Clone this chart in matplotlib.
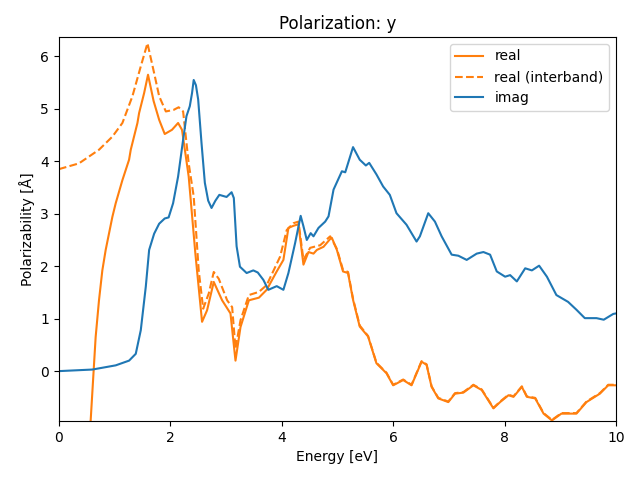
import matplotlib
matplotlib.use("Agg")
import matplotlib.pyplot as plt

# values
real_x = [0.0, 0.3, 0.4, 0.5, 0.57, 0.66, 0.72, 0.78, 0.84, 0.96, 1.02, 1.14, 1.26, 1.29, 1.41,
          1.44, 1.53, 1.60, 1.70, 1.80, 1.90, 2.03, 2.14, 2.21, 2.33, 2.45, 2.57, 2.66, 2.78,
          2.93, 3.08, 3.17, 3.26, 3.41, 3.59, 3.73, 3.91, 4.03, 4.12, 4.21, 4.30, 4.39, 4.48,
          4.57, 4.63, 4.75, 4.87, 4.90, 4.99, 5.10, 5.19, 5.28, 5.40, 5.55, 5.70, 5.88, 6.00,
          6.18, 6.33, 6.51, 6.60, 6.69, 6.81, 6.99, 7.11, 7.26, 7.44, 7.59, 7.80, 7.92, 8.07,
          8.16, 8.31, 8.40, 8.55, 8.70, 8.85, 9.02, 9.29, 9.47, 9.71, 9.86, 10.0]
real_y = [-8.0, -5.5, -4.5, -2.2, -0.95, 0.65, 1.35, 1.92, 2.31, 2.94, 3.2, 3.64, 4.03, 4.22, 4.73,
          4.92, 5.30, 5.65, 5.15, 4.79, 4.52, 4.60, 4.73, 4.60, 3.71, 2.24, 0.94, 1.16, 1.70,
          1.35, 1.10, 0.20, 0.84, 1.35, 1.40, 1.55, 1.90, 2.12, 2.73, 2.77, 2.80, 2.03, 2.27,
          2.24, 2.31, 2.37, 2.52, 2.54, 2.31, 1.90, 1.87, 1.36, 0.85, 0.66, 0.15, -0.04, -0.27,
          -0.17, -0.27, 0.18, 0.12, -0.30, -0.52, -0.59, -0.43, -0.41, -0.27, -0.36, -0.71, -0.59, -0.46,
          -0.49, -0.30, -0.49, -0.52, -0.81, -0.94, -0.81, -0.81, -0.59, -0.43, -0.27, -0.27]

inter_x = [0.0, 0.36, 0.72, 0.96, 1.14, 1.32, 1.47, 1.59, 1.71, 1.80, 1.92, 2.06, 2.15, 2.23,
           2.33, 2.42, 2.51, 2.59, 2.69, 2.78, 2.87, 3.02, 3.11, 3.17, 3.26, 3.41, 3.59, 3.73,
           3.97, 4.09, 4.21, 4.30, 4.39, 4.51, 4.69, 4.87, 4.99, 5.10, 5.19, 5.28, 5.40, 5.55,
           5.70, 5.88, 6.00, 6.18, 6.33, 6.51, 6.60, 6.69, 6.81, 6.99, 7.11, 7.26, 7.44, 7.59,
           7.80, 7.92, 8.07, 8.16, 8.31, 8.40, 8.55, 8.70, 8.85, 9.02, 9.29, 9.47, 9.71, 9.86, 10.0]
inter_y = [3.85, 3.96, 4.22, 4.47, 4.73, 5.24, 5.81, 6.25, 5.68, 5.24, 4.95, 4.98, 5.03, 4.95,
           3.96, 3.33, 1.92, 1.19, 1.48, 1.89, 1.76, 1.35, 1.22, 0.43, 0.97, 1.45, 1.51, 1.64,
           2.18, 2.69, 2.82, 2.85, 2.12, 2.35, 2.40, 2.57, 2.33, 1.93, 1.89, 1.38, 0.87, 0.67,
           0.16, -0.03, -0.26, -0.16, -0.26, 0.19, 0.13, -0.29, -0.51, -0.58, -0.42, -0.40, -0.26, -0.35,
           -0.70, -0.58, -0.45, -0.48, -0.29, -0.48, -0.51, -0.80, -0.93, -0.80, -0.80, -0.58, -0.42, -0.26, -0.26]

imag_x = [0.0, 0.60, 1.02, 1.26, 1.38, 1.47, 1.56, 1.62, 1.71, 1.80, 1.90, 1.97, 2.05, 2.14,
          2.23, 2.29, 2.35, 2.39, 2.42, 2.46, 2.50, 2.56, 2.62, 2.68, 2.74, 2.81, 2.88, 3.01,
          3.10, 3.14, 3.19, 3.25, 3.37, 3.49, 3.57, 3.67, 3.76, 3.91, 4.03, 4.12, 4.24, 4.34,
          4.39, 4.45, 4.52, 4.57, 4.66, 4.78, 4.84, 4.93, 5.08, 5.14, 5.28, 5.40, 5.51, 5.57,
          5.70, 5.82, 5.94, 6.06, 6.24, 6.42, 6.48, 6.63, 6.75, 6.87, 7.05, 7.17, 7.32, 7.50,
          7.62, 7.74, 7.86, 8.01, 8.10, 8.22, 8.37, 8.49, 8.62, 8.76, 8.93, 9.14, 9.29, 9.44,
          9.65, 9.78, 9.95, 10.0]
imag_y = [0.0, 0.03, 0.11, 0.20, 0.33, 0.78, 1.61, 2.31, 2.62, 2.81, 2.91, 2.93, 3.20, 3.71,
          4.41, 4.86, 5.05, 5.30, 5.55, 5.45, 5.18, 4.35, 3.59, 3.25, 3.11, 3.25, 3.36, 3.32,
          3.41, 3.30, 2.38, 1.99, 1.87, 1.92, 1.88, 1.74, 1.55, 1.62, 1.55, 1.87, 2.44, 2.96,
          2.76, 2.50, 2.63, 2.57, 2.73, 2.85, 2.95, 3.46, 3.81, 3.79, 4.27, 4.03, 3.92, 3.97,
          3.75, 3.52, 3.36, 3.01, 2.79, 2.47, 2.57, 3.01, 2.85, 2.57, 2.22, 2.20, 2.12, 2.24,
          2.27, 2.22, 1.90, 1.80, 1.83, 1.71, 1.96, 1.92, 2.01, 1.80, 1.45, 1.32, 1.17, 1.01,
          1.01, 0.98, 1.09, 1.10]

fig, ax = plt.subplots(figsize=(6.4, 4.8), dpi=100)
ax.plot(real_x, real_y, color="C1", label="real")
ax.plot(inter_x, inter_y, color="C1", linestyle="--", label="real (interband)")
ax.plot(imag_x, imag_y, color="C0", label="imag")
ax.set_xlim(0, 10)
ax.set_ylim(-0.95, 6.37)
ax.set_title("Polarization: y")
ax.set_xlabel("Energy [eV]")
ax.set_ylabel("Polarizability [Å]")
ax.legend(loc="upper right")
fig.subplots_adjust(left=0.092, right=0.9625, top=0.923, bottom=0.123)
fig.savefig("out.png")
